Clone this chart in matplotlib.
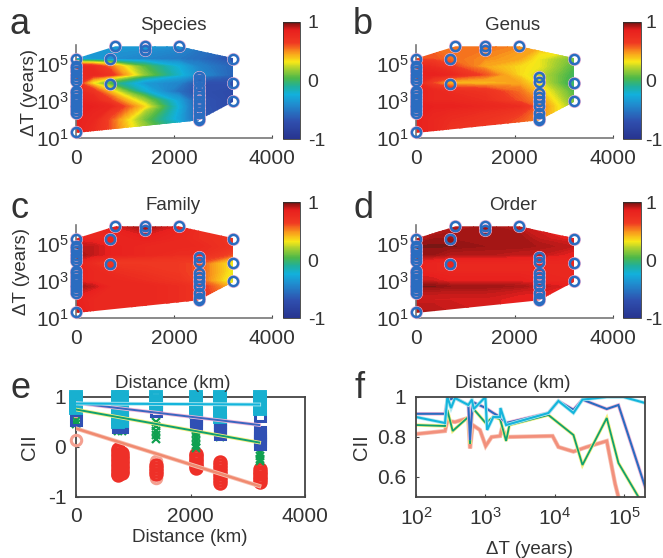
#!/usr/bin/env python3
"""Six panel figure: CII against distance and time for four taxonomic levels."""

import matplotlib

matplotlib.use("Agg")
import matplotlib.pyplot as plt
import numpy as np
from matplotlib.cm import ScalarMappable
from matplotlib.colors import LinearSegmentedColormap, Normalize
from matplotlib.patches import Polygon

plt.rcParams.update(
    {
        "font.family": ["Liberation Sans", "DejaVu Sans"],
        "mathtext.fontset": "custom",
        "mathtext.rm": "Liberation Sans",
        "mathtext.default": "regular",
        "font.size": 14,
        "text.color": "#333333",
        "xtick.color": "#444444",
        "ytick.color": "#444444",
        "xtick.labelcolor": "#333333",
        "ytick.labelcolor": "#333333",
    }
)

W, H = 663, 558

# softened jet, as the printed colorbars look
CMAP = LinearSegmentedColormap.from_list(
    "soft_jet",
    [
        (0.00, "#27348f"),
        (0.15, "#2f4fae"),
        (0.30, "#1f8fd0"),
        (0.38, "#12b0dc"),
        (0.45, "#20b09c"),
        (0.52, "#4cb84a"),
        (0.60, "#a8d030"),
        (0.66, "#f8e818"),
        (0.74, "#f99a1c"),
        (0.82, "#f03a22"),
        (0.93, "#e8201e"),
        (0.98, "#981414"),
        (1.00, "#4a1c14"),
    ],
)

# surface panels: values at grid nodes, rows are log10(years), low to high
GRID_KM = [0, 350, 700, 1400, 2100, 2500, 3200]
GRID_LOGT = [1.3, 2.0, 2.7, 3.0, 3.5, 3.95, 4.4, 4.85, 5.25, 5.9]
SPECIES = [
    [0.85, 0.75, 0.60, 0.20, -0.10, -0.40, -0.70],
    [0.85, 0.80, 0.60, 0.10, -0.30, -0.60, -0.75],
    [0.85, 0.85, 0.80, 0.35, -0.25, -0.65, -0.75],
    [0.85, 0.80, 0.65, 0.20, -0.30, -0.65, -0.75],
    [0.80, 0.70, 0.40, -0.20, -0.55, -0.70, -0.75],
    [0.75, 0.30, 0.00, -0.35, -0.45, -0.70, -0.70],
    [0.80, 0.80, 0.70, 0.15, -0.20, -0.40, -0.60],
    [0.80, 0.75, 0.55, 0.05, -0.25, -0.45, -0.60],
    [-0.30, -0.35, -0.40, -0.45, -0.50, -0.55, -0.70],
    [-0.35, -0.35, -0.35, -0.35, -0.40, -0.50, -0.60],
]
GENUS = [
    [0.85, 0.80, 0.70, 0.65, 0.55, 0.45, 0.30],
    [0.85, 0.80, 0.75, 0.70, 0.60, 0.50, 0.20],
    [0.85, 0.85, 0.85, 0.80, 0.75, 0.55, 0.15],
    [0.85, 0.80, 0.80, 0.75, 0.60, 0.50, 0.10],
    [0.85, 0.80, 0.75, 0.70, 0.55, 0.40, 0.05],
    [0.80, 0.60, 0.40, 0.40, 0.45, 0.30, -0.05],
    [0.85, 0.85, 0.80, 0.60, 0.35, 0.25, 0.00],
    [0.80, 0.75, 0.65, 0.45, 0.35, 0.30, 0.05],
    [0.60, 0.60, 0.55, 0.50, 0.45, 0.30, 0.10],
    [0.55, 0.55, 0.55, 0.55, 0.50, 0.45, 0.40],
]
FAMILY = [
    [0.90, 0.80, 0.80, 0.75, 0.70, 0.65, 0.50],
    [0.85, 0.80, 0.80, 0.80, 0.75, 0.70, 0.50],
    [0.95, 0.90, 0.80, 0.80, 0.75, 0.70, 0.40],
    [0.85, 0.80, 0.80, 0.75, 0.70, 0.60, 0.25],
    [0.85, 0.80, 0.75, 0.70, 0.65, 0.60, 0.30],
    [0.85, 0.75, 0.65, 0.65, 0.65, 0.60, 0.30],
    [0.95, 0.90, 0.85, 0.80, 0.75, 0.75, 0.60],
    [0.90, 0.90, 0.85, 0.80, 0.80, 0.78, 0.70],
    [0.85, 0.80, 0.80, 0.85, 0.80, 0.75, 0.70],
    [0.70, 0.75, 0.85, 0.95, 0.85, 0.75, 0.70],
]
ORDER = [
    [0.92, 0.92, 0.90, 0.88, 0.85, 0.85, 0.80],
    [0.88, 0.88, 0.88, 0.88, 0.85, 0.85, 0.80],
    [0.97, 0.97, 0.95, 0.95, 0.93, 0.90, 0.85],
    [0.88, 0.88, 0.85, 0.85, 0.85, 0.82, 0.80],
    [0.85, 0.82, 0.80, 0.80, 0.80, 0.80, 0.80],
    [0.85, 0.82, 0.80, 0.80, 0.80, 0.80, 0.80],
    [0.95, 0.95, 0.92, 0.92, 0.90, 0.90, 0.85],
    [0.97, 0.97, 0.97, 0.95, 0.95, 0.93, 0.90],
    [0.90, 0.95, 0.95, 0.95, 0.95, 0.90, 0.85],
    [0.80, 0.85, 0.90, 0.95, 0.90, 0.85, 0.80],
]
HULL_KM = [0, 2500, 3250, 3250, 2100, 800, 0]
HULL_LOGT = [1.27, 1.95, 3.0, 5.27, 5.93, 5.93, 5.27]

# sampled pairs drawn as rings
RING_KM = [0] * 17 + [700, 700, 800, 1400, 1400, 2100, 3200, 3200, 3200] + [2500] * 9
RING_LOGT = [
    1.3, 2.34, 2.5, 2.65, 2.8, 2.95, 3.1, 3.25, 3.42, 3.55, 4.05, 4.23, 4.4, 4.58, 4.75, 4.85, 5.27,
    5.27, 3.92, 5.93, 5.93, 5.75, 5.93, 5.27, 3.96, 3.0,
    4.28, 3.99, 3.42, 3.2, 3.0, 2.7, 2.34, 2.1, 1.99,
]
RING_EXTRA_KM = [2500, 2500, 2500, 2500]
RING_EXTRA_LOGT = [3.7, 2.85, 4.13, 2.5]

# panel e: scatter by distance and the fitted lines
E_KM = [0, 730, 800, 1400, 2090, 2520, 3220]
E_SPECIES = [
    [],
    [-0.03, -0.08, -0.13, -0.18, -0.23, -0.28, -0.33, -0.38, -0.43, -0.48, -0.53, -0.56],
    [-0.12, -0.17, -0.22, -0.27, -0.32, -0.37, -0.42, -0.47, -0.52],
    [-0.36, -0.42, -0.48, -0.54],
    [-0.13, -0.18, -0.23, -0.28, -0.33, -0.38, -0.42],
    [-0.30, -0.36, -0.42, -0.48, -0.54, -0.60, -0.66, -0.72],
    [-0.44, -0.49, -0.54, -0.59, -0.64, -0.69],
]
E_SPECIES_PALE_KM = [0, 0, 1400, 1400]
E_SPECIES_PALE = [0.14, 0.72, -0.28, -0.62]
E_GENUS = [
    [0.46, 0.52],
    [0.32, 0.36, 0.42],
    [0.32, 0.36, 0.42],
    [0.5, 0.42, 0.33, 0.25, 0.17],
    [0.36, 0.28, 0.2, 0.12, 0.04, -0.02],
    [0.2, 0.24, 0.3],
    [-0.12, -0.18, -0.24, -0.28],
]
E_FAMILY = [
    [0.55],
    [0.40, 0.46, 0.52, 0.6, 0.7],
    [0.40, 0.46, 0.52, 0.6, 0.7],
    [0.72, 0.8, 0.9],
    [0.44, 0.5, 0.56, 0.62, 0.68],
    [0.26, 0.32, 0.38, 0.44, 0.5, 0.56],
    [0.06, 0.12, 0.18, 0.24, 0.30, 0.63],
]
E_ORDER = [
    [0.78, 0.84, 0.9, 0.96, 1.0],
    [0.5, 0.56, 0.62, 0.68, 0.74, 0.8, 0.86, 0.92, 1.0],
    [0.52, 0.58, 0.64, 0.7, 0.76, 0.82, 0.88, 0.94, 1.0],
    [0.86, 0.93, 1.0],
    [0.7, 0.76, 0.82, 0.88, 0.94, 1.0],
    [0.6, 0.66, 0.72, 0.78, 0.84, 0.9, 0.96, 1.0],
    [0.76, 0.82, 0.88, 0.94, 1.0],
]
FIT_KM = [0, 3200]
FIT_SPECIES = [0.37, -0.78]
FIT_GENUS = [0.75, 0.09]
FIT_FAMILY = [0.88, 0.44]
FIT_ORDER = [0.87, 0.85]

# panel f
F_YEARS_SPECIES = [100, 262, 283, 365, 568, 601, 656, 835, 1010, 1230, 1630, 1740, 1990, 9300, 11300, 18600, 28900, 56200, 74000, 82800]
F_SPECIES = [0.815, 0.83, 0.88, 0.875, 0.895, 0.743, 0.86, 0.835, 0.755, 0.80, 0.805, 0.845, 0.80, 0.805, 0.75, 0.727, 0.75, 0.78, 0.567, 0.50]
F_YEARS_GENUS = [100, 262, 283, 338, 568, 601, 656, 1010, 1300, 1630, 1990, 2220, 8100, 18600, 25100, 56200, 82800, 161000]
F_GENUS = [0.86, 0.855, 0.935, 0.83, 0.90, 0.765, 0.945, 0.87, 0.90, 0.89, 0.78, 0.86, 0.91, 0.81, 0.66, 0.895, 0.67, 0.50]
F_YEARS_FAMILY = [100, 262, 283, 365, 568, 601, 656, 1010, 1300, 1630, 1990, 8100, 11300, 18600, 25100, 56200, 82800, 201000]
F_FAMILY = [0.916, 0.916, 0.985, 0.995, 0.96, 0.785, 0.975, 0.945, 0.92, 0.90, 0.87, 0.92, 0.98, 0.936, 0.987, 0.94, 0.96, 0.55]
F_YEARS_ORDER = [100, 262, 283, 320, 365, 568, 640, 680, 1000, 1060, 1300, 1630, 1650, 1990, 8100, 11300, 18600, 25100, 56200, 98000, 201000]
F_ORDER = [0.90, 0.87, 1.0, 0.945, 0.995, 0.96, 0.987, 0.94, 1.0, 0.835, 0.90, 0.90, 0.945, 0.86, 0.92, 0.98, 0.92, 0.987, 1.0, 1.0, 0.97]

RING = "#2a6cc0"
HALO_PINK = "#f3b8d8"


def add_axes_px(fig, left, top, right, bottom):
    return fig.add_axes([left / W, 1 - bottom / H, (right - left) / W, (bottom - top) / H])


def label(fig, x, y, s, **kw):
    kw.setdefault("ha", "center")
    kw.setdefault("va", "center")
    fig.text(x / W, 1 - y / H, s, **kw)


def surface(fig, box, cbox, values, title, title_x, title_y, extra_rings=False, cb_pad=5.5):
    ax = add_axes_px(fig, *box)
    ax.set_yscale("log")
    years = 10 ** np.array(GRID_LOGT)
    cs = ax.contourf(GRID_KM, years, values, levels=np.linspace(-1, 1, 121), cmap=CMAP, antialiased=False)
    hull = Polygon(np.column_stack([HULL_KM, 10 ** np.array(HULL_LOGT)]), closed=True, transform=ax.transData, fc="none", ec="none")
    ax.add_patch(hull)
    cs.set_clip_path(hull)

    km = list(RING_KM)
    logt = list(RING_LOGT)
    if extra_rings:
        km += RING_EXTRA_KM
        logt += RING_EXTRA_LOGT
    rt = 10 ** np.array(logt)
    ax.plot(km, rt, "o", ms=8.8, mfc="none", mec=HALO_PINK, mew=0.6, clip_on=False, zorder=3)
    ax.plot(km, rt, "o", ms=6.6, mfc="none", mec=RING, mew=1.8, clip_on=False, zorder=4)

    ax.set_xlim(0, 4000)
    ax.set_ylim(10, 1e6)
    ax.set_xticks([0, 2000, 4000])
    ax.set_yticks([10, 1e3, 1e5])
    ax.set_yticklabels(["$10^{1}$", "$10^{3}$", "$10^{5}$"])
    ax.minorticks_off()
    ax.tick_params(axis="both", direction="in", length=2, width=0.8, labelsize=15)
    ax.tick_params(axis="x", pad=8)
    ax.tick_params(axis="y", pad=5)
    for side in ("top", "right"):
        ax.spines[side].set_visible(False)
    for side in ("left", "bottom"):
        ax.spines[side].set_color("#777777")
        ax.spines[side].set_linewidth(1.2)
    label(fig, title_x, title_y, title, fontsize=13.5)

    cax = add_axes_px(fig, *cbox)
    cb = fig.colorbar(ScalarMappable(Normalize(-1, 1), CMAP), cax=cax, ticks=[-1, 0, 1])
    cb.ax.set_yticklabels(["-1", "0", "1"])
    cb.ax.tick_params(length=0, pad=cb_pad, labelsize=14)
    cb.outline.set_linewidth(0.6)
    cb.outline.set_edgecolor("#333333")


def box_axes(ax):
    for side in ax.spines:
        ax.spines[side].set_color("#444444")
        ax.spines[side].set_linewidth(1.3)


def main():
    fig = plt.figure(figsize=(W / 100, H / 100), dpi=100)

    surface(fig, (76, 45, 272, 138), (283, 22, 300, 139), SPECIES, "Species", 173, 25, extra_rings=True)
    surface(fig, (416, 45, 613, 138), (623, 22, 641, 139), GENUS, "Genus", 513, 25, cb_pad=3)
    surface(fig, (76, 225, 272, 318), (283, 202, 300, 318), FAMILY, "Family", 173, 205)
    surface(fig, (416, 225, 613, 318), (623, 202, 641, 318), ORDER, "Order", 513, 205, cb_pad=3)

    for x, y, s in [(20, 25, "a"), (363, 25, "b"), (20, 208, "c"), (363, 208, "d"), (20, 388, "e"), (360, 388, "f")]:
        label(fig, x, y, s, fontsize=26)
    label(fig, 30, 93, "ΔT (years)", rotation=90, fontsize=13.5)
    label(fig, 22, 272, "ΔT (years)", rotation=90, fontsize=13.5)

    # panel e
    ax = add_axes_px(fig, 76, 397, 305, 497)
    ax.plot(E_SPECIES_PALE_KM, E_SPECIES_PALE, "o", ms=7.5, mfc="none", mec="#f4a090", mew=2.2, clip_on=False, zorder=3)
    series = [
        (E_SPECIES, "o", "#ee3028", 8, 2.4),
        (E_GENUS, "x", "#10a050", 5.5, 1.6),
        (E_FAMILY, "s", "#3050b4", 7, 2.2),
        (E_ORDER, "s", "#18b0d0", 7.5, 2.8),
    ]
    for data, marker, color, ms, mew in series:
        for km, vals in zip(E_KM, data):
            ax.plot([km] * len(vals), vals, marker, ms=ms, mfc="none", mec=color, mew=mew, clip_on=False, zorder=3)
    fits = [
        (FIT_SPECIES, "#f8c0b0", "#f08a70", 1.8),
        (FIT_GENUS, "#f4ee80", "#10a070", 1.4),
        (FIT_FAMILY, HALO_PINK, "#3a66c0", 1.4),
        (FIT_ORDER, "#b0e8f0", "#14b4dc", 1.5),
    ]
    for fit, halo, core, lw in fits:
        ax.plot(FIT_KM, fit, color=halo, lw=lw + 1.2, zorder=4)
        ax.plot(FIT_KM, fit, color=core, lw=lw, zorder=4)
    ax.set_xlim(0, 4000)
    ax.set_ylim(-1, 1)
    ax.set_xticks([0, 2000, 4000])
    ax.set_yticks([-1, 0, 1])
    ax.set_yticklabels(["-1", "0", "1"])
    ax.tick_params(direction="in", length=2, width=0.8, labelsize=15, pad=7)
    box_axes(ax)
    label(fig, 173, 384, "Distance (km)", fontsize=13.5)
    label(fig, 190, 538, "Distance (km)", fontsize=13.5)
    label(fig, 30, 447, "CII", rotation=90, fontsize=14.5)

    # panel f
    ax = add_axes_px(fig, 416, 397, 645, 497)
    ax.set_xscale("log")
    lines = [
        (F_YEARS_SPECIES, F_SPECIES, "#f8c0b0", "#f2907c", 2.0),
        (F_YEARS_GENUS, F_GENUS, "#f4ee80", "#10a070", 1.3),
        (F_YEARS_FAMILY, F_FAMILY, HALO_PINK, "#2a6cc0", 1.5),
        (F_YEARS_ORDER, F_ORDER, "#b0e8f0", "#14b4dc", 1.5),
    ]
    for xs, ys, halo, core, lw in lines:
        ax.plot(xs, ys, color=halo, lw=lw + 1.1, solid_joinstyle="miter")
        ax.plot(xs, ys, color=core, lw=lw, solid_joinstyle="miter")
    ax.set_xlim(100, 2e5)
    ax.set_ylim(0.5, 1)
    ax.set_yticks([0.6, 0.8, 1])
    ax.set_yticklabels(["0.6", "0.8", "1"])
    ax.set_xticks([1e2, 1e3, 1e4, 1e5])
    ax.set_xticklabels(["$10^{2}$", "$10^{3}$", "$10^{4}$", "$10^{5}$"])
    ax.tick_params(which="major", direction="in", length=2.5, width=0.8, labelsize=15, pad=7)
    ax.tick_params(which="minor", direction="in", length=1.5, width=0.6, labelbottom=False)
    box_axes(ax)
    label(fig, 513, 384, "Distance (km)", fontsize=13.5)
    label(fig, 530, 549, "ΔT (years)", fontsize=13.5)
    label(fig, 362, 447, "CII", rotation=90, fontsize=14.5)

    fig.savefig("out.png", dpi=100, facecolor="white")
    plt.close(fig)


if __name__ == "__main__":
    main()
